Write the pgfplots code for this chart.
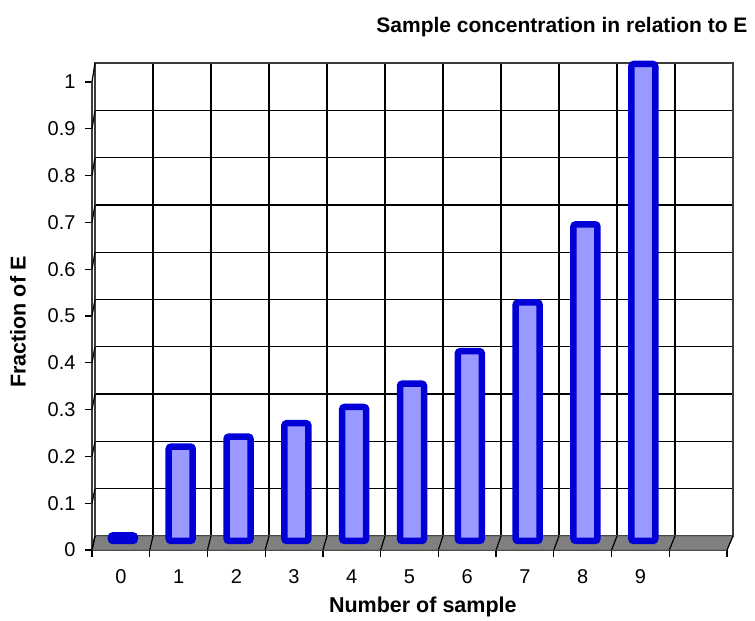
\documentclass[border=0pt]{standalone}
\usepackage{pgfplots}
\pgfplotsset{compat=1.18}
\usepackage{fontspec}
\setmainfont{Liberation Sans}
\definecolor{barfill}{RGB}{153,153,255}
\definecolor{baredge}{RGB}{0,0,215}
\definecolor{floorgray}{RGB}{128,128,128}
\definecolor{wallline}{RGB}{60,60,60}
\pgfplotstableread{
x y
0 0.012
1 0.198
2 0.219
3 0.247
4 0.281
5 0.330
6 0.398
7 0.500
8 0.664
9 1.000
}\bardata
\begin{document}
\begin{tikzpicture}
\useasboundingbox (0,0) rectangle (755pt,621pt);
% back wall with grid
\begin{axis}[
  at={(95pt,85pt)}, anchor=south west,
  scale only axis, width=638pt, height=473pt,
  xmin=-0.5, xmax=10.5, ymin=0, ymax=1,
  xtick={-0.5,0.5,...,10.5}, ytick={0,0.1,0.2,0.3,0.4,0.5,0.6,0.7,0.8,0.9,1},
  xticklabels={}, yticklabels={},
  major tick length=0pt,
  grid=major,
  grid style={black, line width=1.3pt},
  axis line style={wallline, line width=1.6pt},
]
\addplot[draw=none] coordinates {(0,0)};
\end{axis}
% front axis: floor, ticks, labels
\begin{axis}[
  at={(92pt,71pt)}, anchor=south west,
  scale only axis, width=635pt, height=468pt,
  xmin=-0.5, xmax=10.5, ymin=0, ymax=1,
  axis x line=bottom, axis y line=left,
  axis line style={-, wallline, line width=1.6pt},
  xtick={0,...,9}, xticklabels={0,1,2,3,4,5,6,7,8,9},
  minor xtick={-0.5,0.5,...,10.5},
  major x tick style={draw=none},
  minor x tick style={black, line width=1.2pt},
  ytick={0,0.1,0.2,0.3,0.4,0.5,0.6,0.7,0.8,0.9,1},
  yticklabels={0,0.1,0.2,0.3,0.4,0.5,0.6,0.7,0.8,0.9,1},
  y tick style={black, line width=1.2pt},
  tick align=outside, tickwidth=7pt, subtickwidth=7pt,
  /pgf/number format/assume math mode=true,
  tick label style={font=\fontsize{20}{24}\selectfont},
  xticklabel style={yshift=-9pt},
  yticklabel style={xshift=-6pt},
  xlabel={\textbf{Number of sample}},
  ylabel={\textbf{Fraction of E}},
  label style={font=\fontsize{21.5}{25}\selectfont},
  xlabel style={at={(axis description cs:0.521,-0.122)}, anchor=center},
  ylabel style={at={(axis description cs:-0.1165,0.487)}, anchor=center},
  clip=false,
]
\addplot[fill=floorgray, draw=floorgray!70!black, line width=0.8pt, forget plot]
  coordinates {(-0.5,0) (10.5,0) (10.6,0.0299) (-0.448,0.0299) (-0.5,0)};
\pgfplotsinvokeforeach{-0.5,0.5,1.5,2.5,3.5,4.5,5.5,6.5,7.5,8.5,9.5,10.5}{
  \draw[black, line width=1.2pt] (axis cs:#1,0) -- (axis cs:{((95+(#1+0.5)*58)-92)/57.727-0.5},0.0299);
}
\pgfplotsinvokeforeach{0,0.1,0.2,0.3,0.4,0.5,0.6,0.7,0.8,0.9,1}{
  \draw[black, line width=1.2pt] (axis cs:-0.5,#1) -- (axis cs:-0.448,{(14+473*#1)/468});
}
\end{axis}
% bars, at mid depth
\begin{axis}[
  at={(94pt,80pt)}, anchor=south west,
  scale only axis, width=636pt, height=477pt,
  xmin=-0.5, xmax=10.5, ymin=0, ymax=1,
  hide axis, clip=false,
]
\addplot[ybar, bar width=24pt, fill=barfill, draw=baredge, line width=6.5pt, rounded corners=2.5pt]
  table[x=x, y=y] {\bardata};
\end{axis}
\node[anchor=base east, font=\bfseries\fontsize{21}{25}\selectfont] at (751pt,588pt) {Sample concentration in relation to E};
\end{tikzpicture}
\end{document}
